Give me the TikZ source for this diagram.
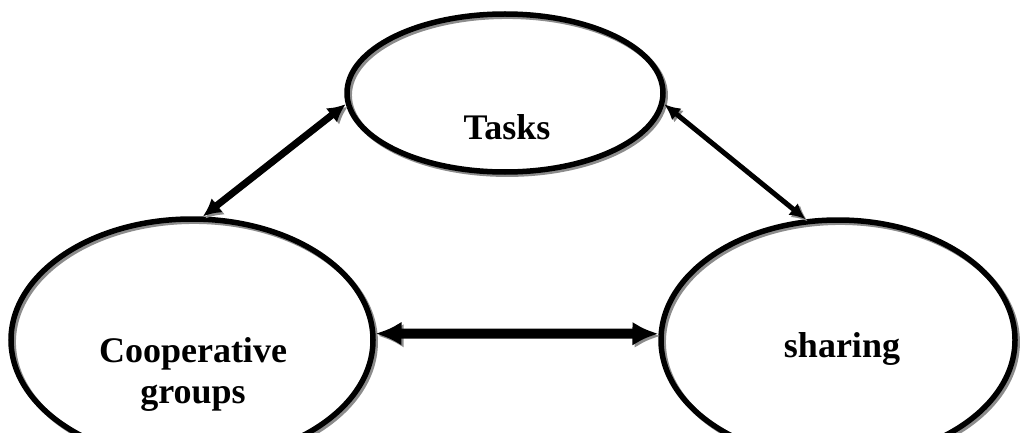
\documentclass[tikz,border=0pt]{standalone}
\usepackage{fontspec}
\setmainfont{Liberation Serif}
\usetikzlibrary{shapes.geometric,arrows.meta}
\tikzset{
  x=1pt, y=-1pt,
  shad/.style={preaction={draw=black!45, transform canvas={xshift=2.2pt,yshift=-2.2pt}}},
  oval/.style={ellipse, draw=black, line width=5.5pt, inner sep=0pt, fill=none, shad},
  lbl/.style={font=\bfseries\fontsize{36}{41}\selectfont, align=center, inner sep=0pt},
  conn/.style={draw=black, shad},
}
\begin{document}
\begin{tikzpicture}
\useasboundingbox (0,0) rectangle (1020,433);
\clip (0,0) rectangle (1020,433);
\node[oval, minimum width=316pt, minimum height=158pt] (tasks) at (505,93) {};
\node[oval, minimum width=362pt, minimum height=242pt] (cg) at (192,340) {};
\node[oval, minimum width=354pt, minimum height=240pt] (sharing) at (838,340) {};
\node[lbl, anchor=base] (tasksT) at (507,140) {Tasks};
\node[lbl, anchor=base] (sharingT) at (842,357) {sharing};
\node[lbl] (cgT) at (193,374) {Cooperative\\groups};
\draw[conn, line width=7pt, {Latex[length=18pt,width=18pt]}-{Latex[length=18pt,width=18pt]}] (cg.85) -- (tasks.184);
\draw[conn, line width=5pt, {Latex[length=16pt,width=15pt]}-{Latex[length=16pt,width=15pt]}] (tasks.-4) -- (sharing.105);
\draw[conn, line width=10pt, {Latex[length=26pt,width=24pt]}-{Latex[length=26pt,width=24pt]}] (cg.2) -- (sharing.178);
\end{tikzpicture}
\end{document}
